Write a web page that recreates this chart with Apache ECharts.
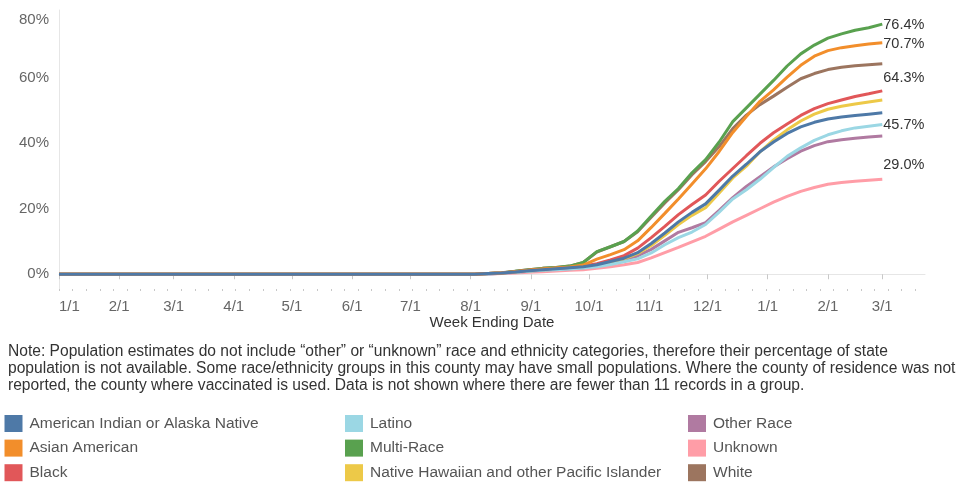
<!DOCTYPE html>
<html>
<head>
<meta charset="utf-8">
<script src="https://cdn.jsdelivr.net/npm/echarts@6/dist/echarts.min.js"></script>
<style>
html,body{margin:0;padding:0;background:#fff;}
#chart{width:968px;height:485px;}
</style>
</head>
<body>
<div id="chart"></div>
<script>
// Week ending dates
const weeks = ['2021-01-01','2021-07-27','2021-08-03','2021-08-10','2021-08-17','2021-08-24','2021-08-31',
  '2021-09-07','2021-09-14','2021-09-21','2021-09-28','2021-10-05','2021-10-12','2021-10-19','2021-10-26',
  '2021-11-02','2021-11-09','2021-11-16','2021-11-23','2021-11-30','2021-12-07','2021-12-14','2021-12-21',
  '2021-12-28','2022-01-04','2022-01-11','2022-01-18','2022-01-25','2022-02-01','2022-02-08','2022-02-15',
  '2022-02-22','2022-03-01'];

// Series values (% vaccinated)
const aian   = [0,0,0,0.2,0.4,0.7,1.1,1.4,1.7,2.0, 2.3,2.9,3.9,4.9,6.6,9.4,12.6,16.0,18.9,21.5, 25.7,30.0,33.6,37.4,40.4,43.0,45.0,46.4,47.4,48.0, 48.5,48.9,49.3];
const asian  = [0,0,0,0.2,0.4,0.8,1.2,1.6,1.9,2.2, 2.8,4.6,6.0,7.5,10.2,14.3,18.6,23.0,27.6,32.2, 37.5,43.3,48.2,52.8,56.3,60.2,63.8,66.6,68.3,69.2, 69.8,70.3,70.7];
const black  = [0,0,0,0.2,0.4,0.8,1.2,1.5,1.8,2.1, 2.5,3.2,4.4,5.7,8.0,11.2,14.6,18.2,21.3,24.2, 28.4,32.3,36.2,40.0,43.2,45.9,48.5,50.6,52.1,53.2, 54.3,55.1,56.0];
const latino = [0,0,0,0.1,0.3,0.6,0.9,1.2,1.4,1.6, 1.9,2.3,3.0,3.8,4.7,6.5,9.0,11.2,12.9,15.2, 19.0,23.0,25.8,29.0,32.6,36.0,38.6,40.9,42.6,43.8, 44.7,45.2,45.7];
const multi  = [0,0,0,0.2,0.4,0.9,1.4,1.8,2.1,2.5, 3.6,6.9,8.4,10.0,13.2,17.8,22.3,26.2,31.0,35.0, 40.4,46.6,50.8,55.0,59.2,63.6,67.3,70.0,72.1,73.4, 74.5,75.3,76.4];
const nhpi   = [0,0,0,0.2,0.4,0.7,1.0,1.3,1.6,1.9, 2.2,2.8,3.7,4.7,6.3,8.8,11.9,15.2,18.0,20.3, 24.8,29.4,33.0,37.4,41.0,44.1,46.8,48.9,50.4,51.3, 52.0,52.6,53.2];
const other  = [0,0,0,0.1,0.3,0.6,0.9,1.2,1.5,1.7, 2.0,2.6,3.5,4.5,5.6,7.6,10.2,12.8,14.2,15.8, 19.5,23.4,26.8,29.8,32.8,35.3,37.6,39.3,40.5,41.1, 41.5,41.9,42.2];
const unknown= [0,0,0,0.1,0.2,0.4,0.6,0.8,1.0,1.2, 1.4,1.8,2.3,2.9,3.6,5.0,6.6,8.2,9.9,11.6, 13.8,16.0,18.0,20.0,22.0,23.8,25.3,26.5,27.5,28.0, 28.4,28.7,29.0];
const white  = [0,0,0,0.2,0.5,0.9,1.4,1.8,2.1,2.5, 3.6,6.8,8.4,10.0,13.0,17.4,21.8,25.8,30.4,34.4, 39.0,44.5,48.6,51.8,54.4,57.1,59.7,61.3,62.5,63.2, 63.7,64.0,64.3];

// Axis ticks
const monthTicks = ['2021-01-01','2021-02-01','2021-03-01','2021-04-01','2021-05-01','2021-06-01','2021-07-01',
  '2021-08-01','2021-09-01','2021-10-01','2021-11-01','2021-12-01','2022-01-01','2022-02-01','2022-03-01'];
const yTicks = [0,20,40,60,80];

const noteLines = [
  'Note: Population estimates do not include \u201cother\u201d or \u201cunknown\u201d race and ethnicity categories, therefore their percentage of state',
  'population is not available. Some race/ethnicity groups in this county may have small populations. Where the county of residence was not',
  'reported, the county where vaccinated is used. Data is not shown where there are fewer than 11 records in a group.'
];

const FONT = '"Liberation Sans", Arial, sans-serif';

const legendCols = [
  ['American Indian or Alaska Native','Asian American','Black'],
  ['Latino','Multi-Race','Native Hawaiian and other Pacific Islander'],
  ['Other Race','Unknown','White']
];

// Draw order (last on top)
const seriesDefs = [
  {name:'White', data:white, color:'#9c755f', label:true, offset:[0,14]},
  {name:'Unknown', data:unknown, color:'#ff9da7', label:true, offset:[0,-14]},
  {name:'Other Race', data:other, color:'#b07aa1'},
  {name:'Native Hawaiian and other Pacific Islander', data:nhpi, color:'#edc948'},
  {name:'Multi-Race', data:multi, color:'#59a14f', label:true, offset:[0,1]},
  {name:'Latino', data:latino, color:'#9bd7e4', label:true, offset:[0,0]},
  {name:'Black', data:black, color:'#e15759'},
  {name:'Asian American', data:asian, color:'#f28e2b', label:true, offset:[0,1]},
  {name:'American Indian or Alaska Native', data:aian, color:'#4e79a7'}
];

function ts(s) { const p = s.split('-'); return new Date(+p[0], +p[1]-1, +p[2]).getTime(); }
const DAY = 86400000;
const xMin = ts('2021-01-01');
const xMax = ts('2022-03-23');
const monthTs = monthTicks.map(ts);
const weeklyTicks = [];
for (let t = xMin; t <= xMax; t += 7*DAY) weeklyTicks.push(t);

const chart = echarts.init(document.getElementById('chart'), null, {renderer:'canvas'});

const option = {
  animation: false,
  backgroundColor: '#fff',
  grid: {left: 59, right: 43, top: 10, bottom: 196},
  xAxis: [{
    type: 'value',
    min: xMin,
    max: xMax,
    axisLine: {show: true, lineStyle: {color: '#e6e6e6', width: 1}},
    axisTick: {show: true, length: 5, lineStyle: {color: '#c8c8c8'}, customValues: monthTs},
    axisLabel: {
      customValues: monthTs,
      color: '#666', fontSize: 15, fontFamily: FONT, margin: 10,
      alignMinLabel: 'left',
      formatter: function (v) { const d = new Date(v); return (d.getMonth()+1) + '/' + d.getDate(); }
    },
    splitLine: {show: false},
    name: 'Week Ending Date',
    nameLocation: 'middle',
    nameGap: 26,
    nameMoveOverlap: false,
    nameTextStyle: {color: '#333', fontSize: 15, fontFamily: FONT}
  }, {
    type: 'value',
    min: xMin,
    max: xMax,
    position: 'bottom',
    axisLine: {show: false},
    axisTick: {show: true, length: 2, lineStyle: {color: '#c8c8c8'}, customValues: weeklyTicks},
    axisLabel: {show: false},
    splitLine: {show: false}
  }],
  yAxis: {
    type: 'value',
    min: -4.5,
    max: 80.7,
    axisLine: {show: true, lineStyle: {color: '#e6e6e6', width: 1}},
    axisTick: {show: false},
    splitLine: {show: false},
    axisLabel: {
      customValues: yTicks,
      color: '#666', fontSize: 15, fontFamily: FONT, margin: 10,
      verticalAlignMaxLabel: 'top',
      formatter: function (v) { return v + '%'; }
    }
  },
  legend: legendCols.map(function (col, i) {
    return {
      data: col,
      orient: 'vertical',
      left: [4.5, 345, 688][i],
      top: 415,
      padding: 0,
      itemWidth: 18,
      itemHeight: 17,
      itemGap: 7.6,
      icon: 'rect',
      selectedMode: false,
      textStyle: {color: '#555', fontSize: 15.5, fontFamily: FONT, padding: [0,0,0,2]}
    };
  }),
  graphic: [{
    type: 'text',
    left: 8,
    top: 343.5,
    style: {text: noteLines.join('\n'), font: '15.6px ' + FONT, fill: '#333', lineHeight: 17}
  }],
  series: seriesDefs.map(function (s) {
    return {
      name: s.name,
      type: 'line',
      xAxisIndex: 0,
      showSymbol: false,
      symbol: 'none',
      color: s.color,
      itemStyle: {color: s.color},
      lineStyle: {color: s.color, width: 3},
      emphasis: {disabled: true},
      data: weeks.map(function (w, i) { return [ts(w), s.data[i]]; }),
      endLabel: s.label ? {
        show: true,
        distance: 1,
        offset: s.offset,
        color: '#333',
        fontSize: 14.5,
        fontFamily: FONT,
        formatter: function (p) { return p.value[1].toFixed(1) + '%'; }
      } : {show: false}
    };
  })
};

chart.setOption(option);
</script>
</body>
</html>
